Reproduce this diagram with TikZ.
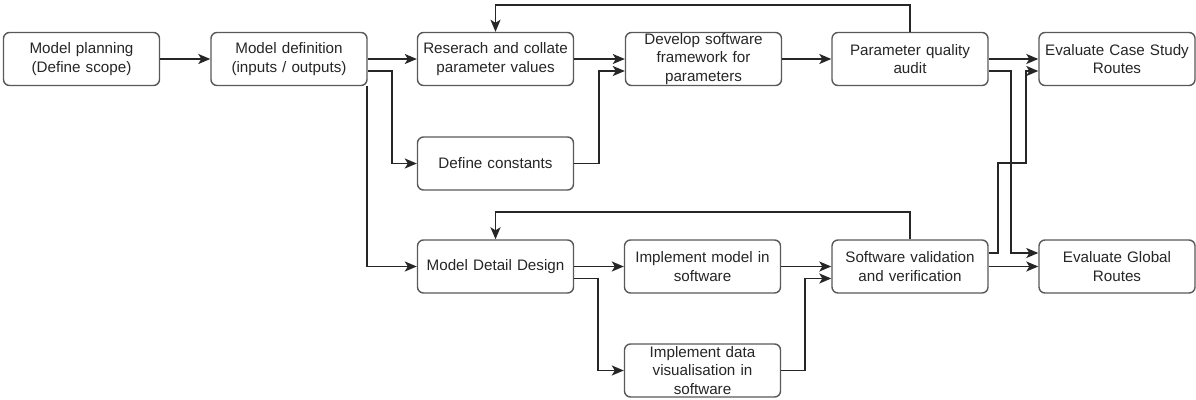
\documentclass[tikz,border=0pt]{standalone}
\usepackage{fontspec}
\setmainfont{Liberation Sans}
\usetikzlibrary{calc,arrows.meta}
\begin{document}
\begin{tikzpicture}[x=1pt,y=-1pt,
  box/.style={draw=black!65,line width=1.4pt,rounded corners=6pt,fill=white,
    minimum width=156pt,minimum height=53pt,inner sep=0pt,text width=154pt,align=center,
    font=\fontsize{15.2}{18.5}\selectfont,text=black!85},
  arr/.style={line width=1.7pt,draw=black!85,-{Stealth[length=12pt,width=10pt,inset=3pt]}},
  ln/.style={line width=1.7pt,draw=black!85}]
\useasboundingbox (0,0) rectangle (1196,399);
\node[box] (b1) at (81.5,59) {Model planning\\(Define scope)};
\node[box] (b2) at (289,59) {Model definition\\(inputs / outputs)};
\node[box] (b3) at (495.5,59) {Reserach and collate\\parameter values};
\node[box] (b4) at (703.5,59) {Develop software\\framework for\\parameters};
\node[box] (b5) at (910,59) {Parameter quality\\audit};
\node[box] (b6) at (1117,59) {Evaluate Case Study\\Routes};
\node[box] (b7) at (495.5,163.5) {Define constants};
\node[box] (b8) at (495.5,266.5) {Model Detail Design};
\node[box] (b9) at (702.5,266.5) {Implement model in\\software};
\node[box] (b10) at (702.5,370.5) {Implement data\\visualisation in\\software};
\node[box] (b11) at (910,266.5) {Software validation\\and verification};
\node[box] (b12) at (1117,266.5) {Evaluate Global\\Routes};

\draw[arr] (b1.east) -- (b2.west);
\draw[arr] (b2.east) -- (b3.west);
\draw[arr] ($(b2.east)+(0,12)$) -| ($(b7.west)+(-25,0)$) -- (b7.west);
\draw[arr] ($(b2.south east)+(-1,0)$) |- (b8.west);
\draw[arr] (b3.east) -- (b4.west);
\draw[arr] (b7.east) -| ($(b4.west)+(-26,12)$) -- ($(b4.west)+(0,12)$);
\draw[arr] (b4.east) -- (b5.west);
\draw[arr] (b5.north) -- ++(0,-26.5) -| (b3.north);
\draw[arr] (b5.east) -- (b6.west);
\draw[arr] ($(b5.east)+(0,12)$) -| ($(b12.west)+(-27,-13.5)$) -- ($(b12.west)+(0,-13.5)$);
\draw[arr] ($(b11.east)+(0,-13.5)$) -| ($(b6.west)+(-40,104)$) -| ($(b6.west)+(-12,12)$) -- ($(b6.west)+(0,12)$);
\draw[arr] (b11.east) -- (b12.west);
\draw[arr] (b8.east) -- (b9.west);
\draw[arr] ($(b8.east)+(0,12)$) -| ($(b10.west)+(-26,0)$) -- (b10.west);
\draw[arr] (b9.east) -- (b11.west);
\draw[arr] (b10.east) -| ($(b11.west)+(-26,12)$) -- ($(b11.west)+(0,12)$);
\draw[arr] (b11.north) -- ++(0,-27) -| (b8.north);
\end{tikzpicture}
\end{document}
